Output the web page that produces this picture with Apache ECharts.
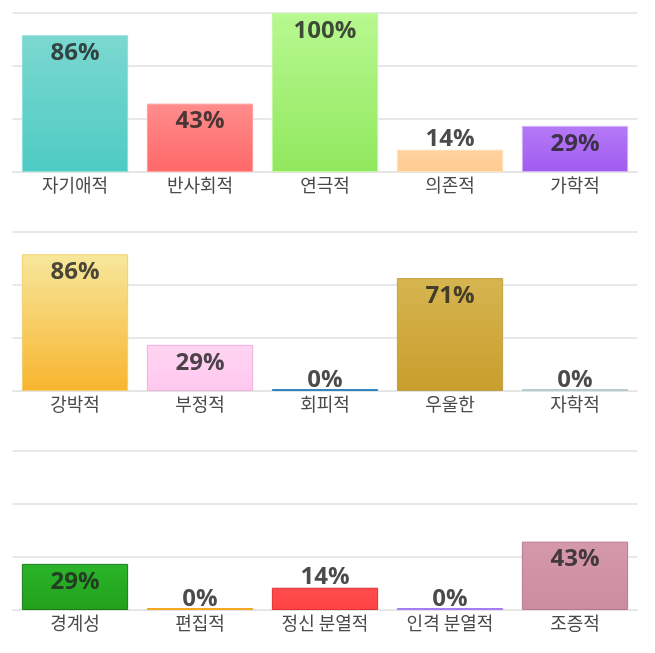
<!DOCTYPE html>
<html>
<head>
<meta charset="utf-8">
<script src="https://cdn.jsdelivr.net/npm/echarts@6/dist/echarts.min.js"></script>
<style>
html,body{margin:0;padding:0;background:#fff;}
#chart{width:655px;height:653px;}
</style>
</head>
<body>
<div id="chart"></div>
<script>
// ---- data ----
const categories1 = ['자기애적', '반사회적', '연극적', '의존적', '가학적'];
const values1 = [86, 43, 100, 14, 29];
const categories2 = ['강박적', '부정적', '회피적', '우울한', '자학적'];
const values2 = [86, 29, 0, 71, 0];
const categories3 = ['경계성', '편집적', '정신 분열적', '인격 분열적', '조증적'];
const values3 = [29, 0, 14, 0, 43];
const yTicks = [0, 100 / 3, 200 / 3, 100];

// ---- styles (top colour, bottom colour, border) ----
const colors1 = [['#7bd8d0', '#4ecbc3', '#8fdfd8'], ['#ff8c8c', '#ff6969', '#ff9c9c'], ['#b8f890', '#90e85e', '#c2f8a0'], ['#ffd29e', '#ffcb90', '#ffe0b8'], ['#b47af6', '#a15bf0', '#d0b0fa']];
const colors2 = [['#f7e79c', '#f8b52e', '#f0d070'], ['#ffd4f2', '#ffc8ee', '#f0b0e0'], ['#2f86c0', '#2f86c0', '#2f86c0'], ['#d6b550', '#c99e2c', '#c0a040'], ['#b8cad4', '#b8cad4', '#b8cad4']];
const colors3 = [['#2bb52a', '#22a01c', '#1a7a18'], ['#f5a623', '#f5a623', '#f5a623'], ['#ff4d4d', '#ff4343', '#e03030'], ['#a67cf0', '#a67cf0', '#a67cf0'], ['#d598aa', '#cc8ca0', '#b87890']];

const gridTops = [13, 232, 451];
const cats = [categories1, categories2, categories3];
const vals = [values1, values2, values3];
const cols = [colors1, colors2, colors3];

const option = {
  animation: false,
  grid: gridTops.map(t => ({ left: 12.5, right: 17.5, top: t, height: 159, containLabel: false })),
  xAxis: cats.map((c, i) => ({
    type: 'category', gridIndex: i, data: c,
    axisTick: { show: false },
    axisLine: { show: true, lineStyle: { color: '#e4e4e4', width: 1 } },
    axisLabel: { color: '#4a4a4a', fontSize: 18, margin: 4, fontFamily: 'Noto Sans CJK KR', interval: 0 }
  })),
  yAxis: cats.map((c, i) => ({
    type: 'value', gridIndex: i, min: 0, max: yTicks[3], interval: yTicks[1],
    axisLabel: { show: false }, axisLine: { show: false }, axisTick: { show: false },
    splitLine: { lineStyle: { color: '#e8e8e8', width: 2 } }
  })),
  series: vals.map((v, i) => ({
    type: 'bar', xAxisIndex: i, yAxisIndex: i,
    barWidth: '85%', barMinHeight: 2,
    data: v.map((val, j) => ({
      value: val,
      itemStyle: {
        color: { type: 'linear', x: 0, y: 0, x2: 0, y2: 1, colorStops: [
          { offset: 0, color: cols[i][j][0] }, { offset: 1, color: cols[i][j][1] }] },
        borderColor: cols[i][j][2], borderWidth: 1
      },
      label: {
        show: true,
        position: val >= 20 ? 'insideTop' : 'top',
        distance: val >= 20 ? 6 : (val === 0 ? -3 : -1),
        formatter: val + '%',
        fontSize: 24, fontWeight: 'bold', fontFamily: 'Open Sans',
        color: 'rgba(35,35,35,0.82)'
      }
    }))
  }))
};

const chart = echarts.init(document.getElementById('chart'), null, { renderer: 'canvas' });
chart.setOption(option);
</script>
</body>
</html>
